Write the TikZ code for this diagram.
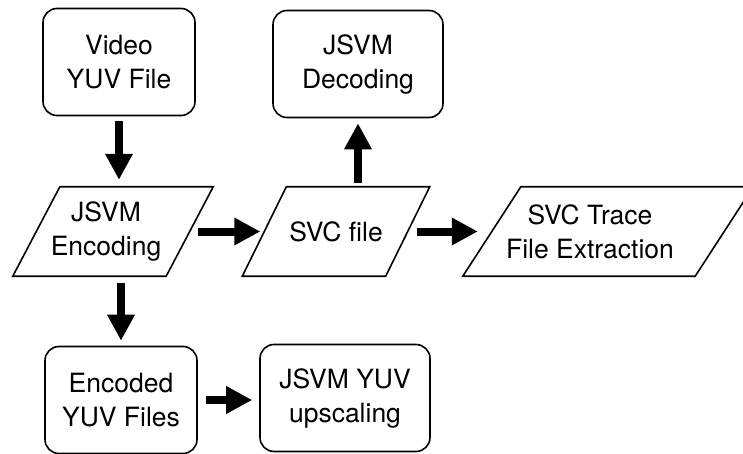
\documentclass[tikz,border=0pt]{standalone}
\usepackage{fontspec}
\setmainfont{TeX Gyre Heros}
\usetikzlibrary{arrows.meta}
\tikzset{procbox/.style={draw, line width=1.6pt, rounded corners=14pt, align=center, minimum height=107pt, font=\fontsize{26.5}{34}\selectfont},
	iobox/.style={minimum height=89pt, align=center, font=\fontsize{26.5}{34}\selectfont},
	ioedge/.style={line width=1.6pt, line join=miter},
	flow/.style={line width=8pt, -{Triangle[width=26pt,length=26pt]}}}

\begin{document}
\begin{tikzpicture}[x=1pt,y=-1pt]
	\useasboundingbox (0,0) rectangle (743,454);
	\node[procbox, minimum width=152pt] (video) at (119,62) {Video\\YUV File};
	\node[procbox, minimum width=170pt] (decode) at (358,64) {JSVM\\Decoding};
	\node[iobox, minimum width=153pt] (enc) at (106,231.5) {JSVM\\Encoding};
	\node[iobox, minimum width=143pt] (svc) at (336,231.5) {SVC file};
	\node[iobox, minimum width=232pt] (trace) at (590,231.5) {SVC Trace\\File Extraction};
	\node[procbox, minimum width=152pt] (encoded) at (121,400) {Encoded\\YUV Files};
	\node[procbox, minimum width=170pt] (upscale) at (345,398) {JSVM YUV\\upscaling};
	\foreach \n/\s/\o in {enc/23.5/7, svc/22/0, trace/29/18}
		\draw[ioedge] ([xshift=\s pt+\o pt]\n.north west) -- ([xshift=\s pt+\o pt]\n.north east) -- ([xshift=-\s pt+\o pt]\n.south east) -- ([xshift=-\s pt+\o pt]\n.south west) -- cycle;
	\draw[flow, shorten <=5pt, shorten >=7pt] (video.south) -- (video.south |- enc.north);
	\draw[flow, shorten <=7pt, shorten >=5pt] (encoded.north |- enc.south) -- (encoded.north);
	\draw[flow, shorten <=8pt, shorten >=4pt] ([xshift=7pt]enc.east) -- (svc.west);
	\draw[flow, shorten <=9pt, shorten >=14pt] (svc.east) -- ([xshift=18pt]trace.west);
	\draw[flow, shorten <=4pt, shorten >=5pt] ([xshift=22pt]svc.north) -- ([xshift=22pt]svc.north |- decode.south);
	\draw[flow, shorten <=8pt, shorten >=7pt] (encoded.east) -- (encoded.east -| upscale.west);
\end{tikzpicture}
\end{document}
